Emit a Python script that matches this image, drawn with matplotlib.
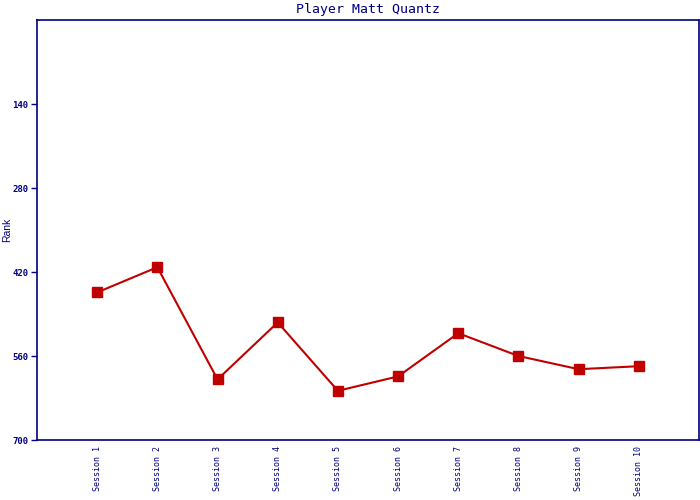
import matplotlib
matplotlib.use("Agg")
from matplotlib import pyplot as plt

# Daten
sessions = ["Session %d" % i for i in range(1, 11)]
ranks = [454, 412, 599, 504, 618, 594, 522, 560, 582, 577]
y_ticks = [140, 280, 420, 560, 700]

navy = "#000080"
red = "#C00000"

fig = plt.figure(figsize=(7, 5), dpi=100)
ax = fig.add_axes([37 / 700, 60 / 500, 662 / 700, 420 / 500])

x = list(range(1, len(sessions) + 1))
ax.plot(x, ranks, color=red, linewidth=1.5, marker="s", markersize=7.5,
        markerfacecolor=red, markeredgecolor=red)

ax.set_xlim(0, 11)
ax.set_ylim(700, 0)  # Rang: oben = besser
ax.set_yticks(y_ticks)
ax.set_yticklabels([str(t) for t in y_ticks], family="DejaVu Sans Mono",
                   fontsize=6.5, fontweight="bold", color=navy)
ax.set_xticks(x)
ax.set_xticklabels(sessions, rotation=90, family="DejaVu Sans Mono",
                   fontsize=6, color=navy, va="top")
ax.tick_params(axis="x", length=0, pad=4)
ax.tick_params(axis="y", length=4, width=1, color=navy, pad=2)

for sp in ax.spines.values():
    sp.set_color(navy)
    sp.set_linewidth(1.2)

ax.set_ylabel("Rank", color=navy, fontsize=7.5, family="Liberation Sans")
ax.yaxis.set_label_coords(-0.038, 0.5)
ax.set_title("Player Matt Quantz", family="DejaVu Sans Mono", fontsize=9.5,
             color=navy, pad=5)

fig.savefig("out.png", dpi=100)
